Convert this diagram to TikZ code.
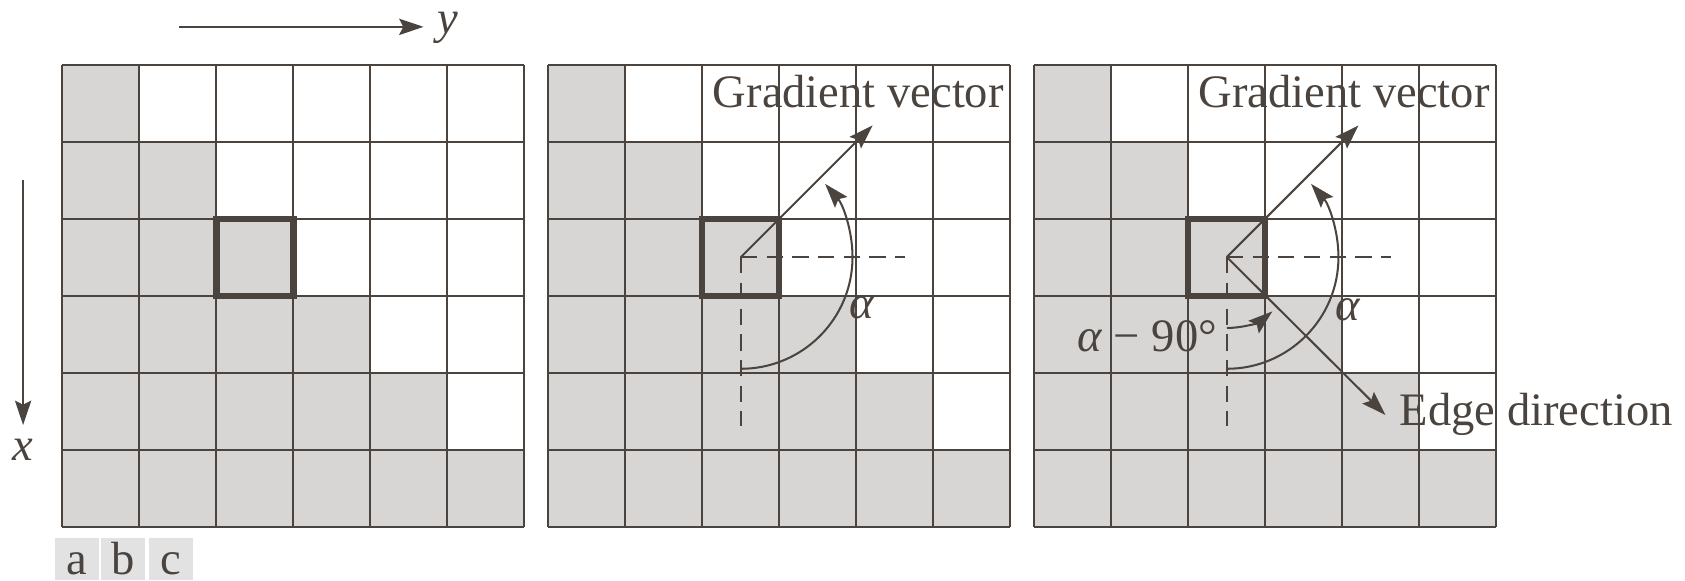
\documentclass[tikz,border=0pt]{standalone}
\usepackage{fontspec}
\setmainfont{Liberation Serif}
\usetikzlibrary{arrows.meta}
\definecolor{ink}{HTML}{4B443E}
\definecolor{cellgray}{HTML}{D7D6D5}
\definecolor{tabgray}{HTML}{E2E2E2}

\begin{document}
\begin{tikzpicture}[x=1cm, y=1cm,
    gridline/.style={ink, line width=0.7pt},
    boldcell/.style={ink, line width=2.3pt},
    guide/.style={ink, line width=0.7pt, dash pattern=on 6pt off 3.5pt},
    vec/.style={ink, line width=0.75pt, -{Stealth[length=9pt, width=6pt, inset=1.5pt]}},
    lbl/.style={text=ink, inner sep=0pt, font=\fontsize{17.2}{20}\selectfont}]
  \useasboundingbox (-0.81,-0.694) rectangle (21.07,6.839);
  % axes
  \coordinate (ytail) at (1.51,6.49);
  \coordinate (yhead) at (4.69,6.49);
  \draw[vec] (ytail) -- (yhead);
  \node[lbl, anchor=base west] (ylab) at (4.86,6.41) {\textit{y}};
  \coordinate (xtail) at (-0.51,4.50);
  \coordinate (xhead) at (-0.51,1.32);
  \draw[vec] (xtail) -- (xhead);
  \node[lbl] (xlab) at (-0.51,1.0) {\textit{x}};
  % grids
  \foreach \ox in {0,6.31,12.62} {
    \begin{scope}[xshift=\ox cm]
      \foreach \r in {1,...,6}
        \fill[cellgray] (0,6-\r) rectangle (\r,7-\r);
      \draw[gridline] (0,0) grid (6,6);
      \draw[boldcell] (2,3) rectangle (3,4);
    \end{scope}
  }
  % panel b
  \begin{scope}[xshift=6.31cm]
    \coordinate (cb) at (2.5,3.5);
    \coordinate (hb) at (4.63,3.5);
    \coordinate (vb) at (2.5,1.31);
    \coordinate (gb) at (4.21,5.21);
    \coordinate (ab) at (2.5,2.05);
    \draw[guide] (cb) -- (hb);
    \draw[guide] (cb) -- (vb);
    \draw[vec] (cb) -- (gb);
    \draw[vec] (ab) arc[start angle=-90, end angle=41, radius=1.45];
    \node[lbl] (alphab) at (4.07,2.84) {\textit{α}};
    \node[lbl, anchor=base west] (gvb) at (2.13,5.44) {Gradient vector};
  \end{scope}
  % panel c
  \begin{scope}[xshift=12.62cm]
    \coordinate (cc) at (2.5,3.5);
    \coordinate (hc) at (4.63,3.5);
    \coordinate (vc) at (2.5,1.31);
    \coordinate (gc) at (4.21,5.21);
    \coordinate (ec) at (4.56,1.45);
    \coordinate (ac) at (2.5,2.05);
    \coordinate (sc) at (2.5,2.58);
    \draw[guide] (cc) -- (hc);
    \draw[guide] (cc) -- (vc);
    \draw[vec] (cc) -- (gc);
    \draw[vec] (cc) -- (ec);
    \draw[vec] (ac) arc[start angle=-90, end angle=41, radius=1.45];
    \draw[vec] (sc) arc[start angle=-90, end angle=-50, radius=0.92];
    \node[lbl] (alphac) at (4.08,2.82) {\textit{α}};
    \node[lbl, anchor=east] (amc) at (2.38,2.47) {\textit{α} − 90°};
    \node[lbl, anchor=base west] (gvc) at (2.13,5.44) {Gradient vector};
    \node[lbl, anchor=base west] (edc) at (4.74,1.32) {Edge direction};
  \end{scope}
  % tabs
  \foreach \t/\tx in {a/0.19, b/0.79, c/1.41} {
    \fill[tabgray] (\tx-0.285,-0.152) rectangle (\tx+0.285,-0.694);
    \node[lbl, anchor=base] (tab\t) at (\tx,-0.62) {\t};
  }
\end{tikzpicture}
\end{document}
